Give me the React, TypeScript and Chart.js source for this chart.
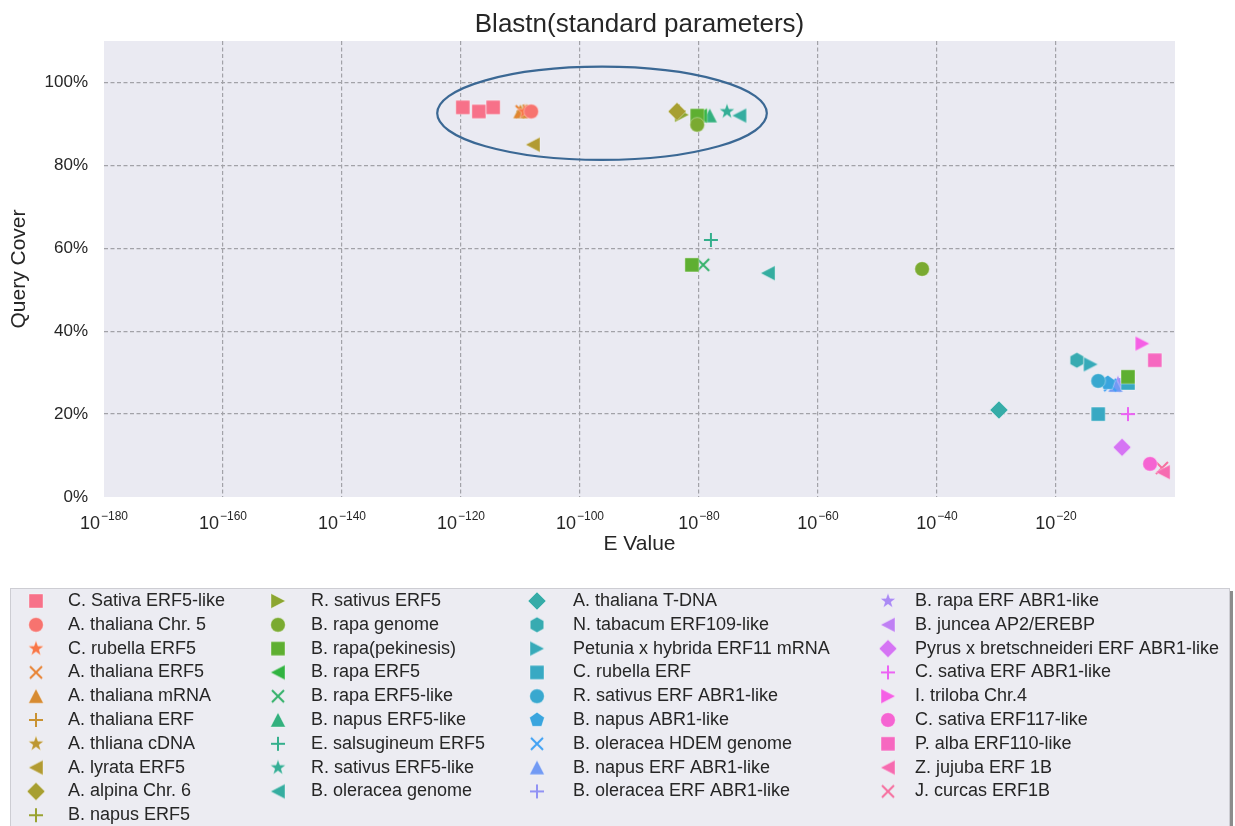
import React, { useEffect, useRef } from 'react';
import { Chart, registerables } from 'chart.js';

Chart.register(...registerables);

const FONT = "'Liberation Sans', Arial, Helvetica, sans-serif";
const TEXT = '#262626';
const GRID = '#a2a2a8';

const chartTitle = 'Blastn(standard parameters)';
const xAxisTitle = 'E Value';
const yAxisTitle = 'Query Cover';

const seriesNames = [
  'C. Sativa ERF5-like', 'A. thaliana Chr. 5', 'C. rubella ERF5', 'A. thaliana ERF5', 'A. thaliana mRNA',
  'A. thaliana ERF', 'A. thliana cDNA', 'A. lyrata ERF5', 'A. alpina Chr. 6', 'B. napus ERF5',
  'R. sativus ERF5', 'B. rapa genome', 'B. rapa(pekinesis)', 'B. rapa ERF5', 'B. rapa ERF5-like',
  'B. napus ERF5-like', 'E. salsugineum ERF5', 'R. sativus ERF5-like', 'B. oleracea genome',
  'A. thaliana T-DNA', 'N. tabacum ERF109-like', 'Petunia x hybrida ERF11 mRNA', 'C. rubella ERF',
  'R. sativus ERF ABR1-like', 'B. napus ABR1-like', 'B. oleracea HDEM genome', 'B. napus ERF ABR1-like',
  'B. oleracea ERF ABR1-like',
  'B. rapa ERF ABR1-like', 'B. juncea AP2/EREBP', 'Pyrus x bretschneideri ERF ABR1-like', 'C. sativa ERF ABR1-like',
  'I. triloba Chr.4', 'C. sativa ERF117-like', 'P. alba ERF110-like', 'Z. jujuba ERF 1B', 'J. curcas ERF1B',
];

const seriesMarkers = [
  'square', 'circle', 'star', 'x', 'triUp', 'plus', 'star', 'triLeft', 'diamond', 'plus',
  'triRight', 'circle', 'square', 'triLeft', 'x', 'triUp', 'plus', 'star', 'triLeft',
  'diamond', 'hexagon', 'triRight', 'square', 'circle', 'pentagon', 'x', 'triUp', 'plus',
  'star', 'triLeft', 'diamond', 'plus', 'triRight', 'circle', 'square', 'triLeft', 'x',
];

// log10(E value) of each hit, per series
const logEValues: number[][] = [
  [-119.7, -117.0, -114.6], [-108.2], [-109.3], [-109.8], [-110.0],
  [-109.5], [-109.0], [-107.9], [-83.7], [-83.4],
  [-82.9], [-80.3, -42.5], [-80.3, -81.2, -7.9], [-79.8], [-79.3],
  [-78.2], [-78.0], [-75.3], [-73.2, -68.4],
  [-29.6], [-16.5], [-14.2], [-12.9, -7.9], [-12.9], [-11.3], [-10.9], [-10.0], [-9.3],
  [-9.6], [-8.0], [-8.9], [-7.9], [-5.5], [-4.2], [-3.4], [-2.0], [-2.2],
];

// Query cover (%) of each hit, per series
const queryCover: number[][] = [
  [94, 93, 94], [93], [93], [93], [93],
  [93], [93], [85], [93], [93],
  [92.2], [89.8, 55], [92, 56, 29], [92], [56],
  [92], [62], [93], [92, 54],
  [21], [33], [32], [20, 27.5], [28], [27.5], [27], [27], [27],
  [27.5], [27.8], [12], [20], [37], [8], [33], [6], [7],
];

const xTickExponents = [-180, -160, -140, -120, -100, -80, -60, -40, -20];
const yTickValues = [0, 20, 40, 60, 80, 100];

// highlighted region (log10 E range, cover range)
const highlightLogE = [-124, -68.6];
const highlightCover = [81.3, 103.8];

// ---------- HUSL palette (seaborn default for many hues) ----------
const M = [
  [3.2406, -1.5372, -0.4986],
  [-0.9689, 1.8758, 0.0415],
  [0.0557, -0.204, 1.057],
];
function maxChroma(L: number, H: number) {
  const hrad = (H / 180) * Math.PI;
  const sinH = Math.sin(hrad);
  const cosH = Math.cos(hrad);
  const sub1 = Math.pow(L + 16, 3) / 1560896;
  const sub2 = sub1 > 0.008856 ? sub1 : L / 903.3;
  let result = Infinity;
  for (const [m1, m2, m3] of M) {
    const top = (0.99915 * m1 + 1.05122 * m2 + 1.1446 * m3) * sub2;
    const rbottom = 0.8633 * m3 - 0.17266 * m2;
    const lbottom = 0.12949 * m3 - 0.38848 * m1;
    const bottom = (rbottom * sinH + lbottom * cosH) * sub2;
    for (const t of [0, 1]) {
      const C = (L * (top - 1.05122 * t)) / (bottom + 0.17266 * sinH * t);
      if (C > 0 && C < result) result = C;
    }
  }
  return result;
}
function husl(H: number, S: number, L: number) {
  const C = (maxChroma(L, H) / 100) * S;
  const hrad = (H / 180) * Math.PI;
  const U = Math.cos(hrad) * C;
  const V = Math.sin(hrad) * C;
  const t = (L + 16) / 116;
  const Y = t * t * t > 0.008856 ? t * t * t : (116 * t - 16) / 903.3;
  const varU = U / (13 * L) + 0.19784;
  const varV = V / (13 * L) + 0.46834;
  const X = -(9 * Y * varU) / ((varU - 4) * varV - varU * varV);
  const Z = (9 * Y - 15 * varV * Y - varV * X) / (3 * varV);
  const rgb = M.map((r) => r[0] * X + r[1] * Y + r[2] * Z)
    .map((c) => (c <= 0.0031308 ? 12.92 * c : 1.055 * Math.pow(c, 1 / 2.4) - 0.055))
    .map((c) => Math.round(Math.min(1, Math.max(0, c)) * 255));
  return `rgb(${rgb[0]},${rgb[1]},${rgb[2]})`;
}
function huslPalette(n: number) {
  const out: string[] = [];
  for (let i = 0; i < n; i++) {
    const h = (((i / n) + 0.01) % 1) * 359;
    out.push(husl(h, 0.9 * 99, 0.65 * 99));
  }
  return out;
}

// ---------- marker images ----------
function polygon(g: CanvasRenderingContext2D, n: number, r: number, rot: number) {
  for (let k = 0; k < n; k++) {
    const a = rot + (k * 2 * Math.PI) / n;
    const px = r * Math.cos(a);
    const py = r * Math.sin(a);
    if (k === 0) g.moveTo(px, py);
    else g.lineTo(px, py);
  }
  g.closePath();
}
function makeMarker(shape: string, color: string) {
  const size = 26;
  const c = document.createElement('canvas');
  c.width = size;
  c.height = size;
  const g = c.getContext('2d') as CanvasRenderingContext2D;
  g.translate(size / 2, size / 2);
  g.fillStyle = color;
  g.strokeStyle = color;
  g.lineCap = 'butt';
  const fill = () => {
    g.fill();
    g.lineWidth = 0.7;
    g.strokeStyle = 'rgba(255,255,255,0.55)';
    g.stroke();
  };
  g.beginPath();
  switch (shape) {
    case 'square':
      g.rect(-7, -7, 14, 14);
      fill();
      break;
    case 'circle':
      g.arc(0, 0, 7.3, 0, Math.PI * 2);
      fill();
      break;
    case 'star': {
      for (let k = 0; k < 10; k++) {
        const r = k % 2 === 0 ? 8.2 : 3.3;
        const a = -Math.PI / 2 + (k * Math.PI) / 5;
        if (k === 0) g.moveTo(r * Math.cos(a), r * Math.sin(a));
        else g.lineTo(r * Math.cos(a), r * Math.sin(a));
      }
      g.closePath();
      fill();
      break;
    }
    case 'triUp':
      g.moveTo(0, -7.5); g.lineTo(7.5, 7); g.lineTo(-7.5, 7); g.closePath();
      fill();
      break;
    case 'triLeft':
      g.moveTo(-7.5, 0); g.lineTo(7, -7.5); g.lineTo(7, 7.5); g.closePath();
      fill();
      break;
    case 'triRight':
      g.moveTo(7.5, 0); g.lineTo(-7, -7.5); g.lineTo(-7, 7.5); g.closePath();
      fill();
      break;
    case 'diamond':
      g.moveTo(0, -9); g.lineTo(9, 0); g.lineTo(0, 9); g.lineTo(-9, 0); g.closePath();
      fill();
      break;
    case 'hexagon':
      polygon(g, 6, 7.8, -Math.PI / 2);
      fill();
      break;
    case 'pentagon':
      polygon(g, 5, 7.8, -Math.PI / 2);
      fill();
      break;
    case 'x':
      g.lineWidth = 2;
      g.moveTo(-6, -6); g.lineTo(6, 6);
      g.moveTo(-6, 6); g.lineTo(6, -6);
      g.stroke();
      break;
    case 'plus':
      g.lineWidth = 2;
      g.moveTo(-7, 0); g.lineTo(7, 0);
      g.moveTo(0, -7); g.lineTo(0, 7);
      g.stroke();
      break;
    default:
      break;
  }
  return c;
}

export default function App() {
  const ref = useRef<HTMLCanvasElement>(null);

  useEffect(() => {
    document.body.style.margin = '0';
    const canvas = ref.current;
    if (!canvas) return;
    const colors = huslPalette(seriesNames.length);
    const markers = seriesMarkers.map((m, i) => makeMarker(m, colors[i]));

    const datasets = seriesNames.map((name, i) => ({
      label: name,
      data: logEValues[i].map((e, k) => ({ x: Math.pow(10, e), y: queryCover[i][k] })),
      pointStyle: markers[i],
      pointRadius: 7,
      pointHoverRadius: 7,
      backgroundColor: colors[i],
      borderColor: colors[i],
      showLine: false,
    }));

    const backgroundPlugin = {
      id: 'bgPlot',
      beforeDraw(chart: any) {
        const { ctx, chartArea } = chart;
        ctx.save();
        ctx.fillStyle = '#ffffff';
        ctx.fillRect(0, 0, chart.width, chart.height);
        ctx.fillStyle = '#eaeaf2';
        ctx.fillRect(chartArea.left, chartArea.top, chartArea.right - chartArea.left, chartArea.bottom - chartArea.top);
        ctx.restore();
      },
    };

    const titlePlugin = {
      id: 'centeredTitle',
      afterDraw(chart: any) {
        const { ctx, chartArea } = chart;
        ctx.save();
        ctx.font = `26px ${FONT}`;
        ctx.fillStyle = TEXT;
        ctx.textAlign = 'center';
        ctx.textBaseline = 'alphabetic';
        ctx.fillText(chartTitle, (chartArea.left + chartArea.right) / 2, 32);
        ctx.restore();
      },
    };

    const xLabelPlugin = {
      id: 'xPowerLabels',
      afterDraw(chart: any) {
        const { ctx } = chart;
        const xs = chart.scales.x;
        ctx.save();
        ctx.fillStyle = TEXT;
        ctx.textBaseline = 'alphabetic';
        ctx.textAlign = 'left';
        xTickExponents.forEach((e) => {
          const px = xs.getPixelForValue(Math.pow(10, e));
          const base = '10';
          const sup = '\u2212' + Math.abs(e);
          ctx.font = `18px ${FONT}`;
          const w1 = ctx.measureText(base).width;
          ctx.font = `12px ${FONT}`;
          const w2 = ctx.measureText(sup).width;
          const x0 = px - (w1 + w2 + 1) / 2;
          ctx.font = `18px ${FONT}`;
          ctx.fillText(base, x0, 529);
          ctx.font = `12px ${FONT}`;
          ctx.fillText(sup, x0 + w1 + 1, 520);
        });
        ctx.restore();
      },
    };

    const ellipsePlugin = {
      id: 'highlight',
      afterDatasetsDraw(chart: any) {
        const { ctx } = chart;
        const xs = chart.scales.x;
        const ys = chart.scales.y;
        const x1 = xs.getPixelForValue(Math.pow(10, highlightLogE[0]));
        const x2 = xs.getPixelForValue(Math.pow(10, highlightLogE[1]));
        const y1 = ys.getPixelForValue(highlightCover[1]);
        const y2 = ys.getPixelForValue(highlightCover[0]);
        ctx.save();
        ctx.beginPath();
        ctx.ellipse((x1 + x2) / 2, (y1 + y2) / 2, (x2 - x1) / 2, (y2 - y1) / 2, 0, 0, Math.PI * 2);
        ctx.strokeStyle = '#3b6894';
        ctx.lineWidth = 2.2;
        ctx.stroke();
        ctx.restore();
      },
    };

    const legendPlugin = {
      id: 'columnLegend',
      afterDraw(chart: any) {
        const { ctx } = chart;
        ctx.save();
        ctx.fillStyle = '#8c8c8c';
        ctx.fillRect(13, 591, 1220, 260);
        ctx.fillStyle = '#ececf2';
        ctx.fillRect(10, 588, 1220, 260);
        ctx.strokeStyle = '#cdcdd3';
        ctx.lineWidth = 1;
        ctx.strokeRect(10.5, 588.5, 1219, 260);
        const markerX = [36, 278, 537, 888];
        const textX = [68, 311, 573, 915];
        ctx.font = `18px ${FONT}`;
        ctx.fillStyle = TEXT;
        ctx.textBaseline = 'middle';
        ctx.textAlign = 'left';
        seriesNames.forEach((name, i) => {
          let col = 0;
          let row = i;
          if (i >= 10) {
            col = 1 + Math.floor((i - 10) / 9);
            row = (i - 10) % 9;
          }
          const y = 601 + row * 23.8;
          const mk = markers[i];
          ctx.drawImage(mk, markerX[col] - mk.width / 2, y - mk.height / 2);
          ctx.fillText(name, textX[col], y);
        });
        ctx.restore();
      },
    };

    const gridColor = (c: any) => (c.index === 0 ? 'rgba(0,0,0,0)' : GRID);

    const chart = new Chart(canvas, {
      type: 'scatter',
      data: { datasets } as any,
      options: {
        responsive: false,
        animation: false,
        devicePixelRatio: 1,
        events: [],
        layout: { padding: { top: 41, left: 0, right: 60, bottom: 249 } },
        plugins: {
          legend: { display: false },
          tooltip: { enabled: false },
          title: { display: false },
        },
        scales: {
          x: {
            type: 'logarithmic',
            min: Math.pow(10, xTickExponents[0]),
            max: 1,
            afterBuildTicks: (s: any) => {
              s.ticks = xTickExponents.map((e) => ({ value: Math.pow(10, e) }));
            },
            afterFit: (s: any) => {
              s.height = 80;
            },
            ticks: { display: false },
            grid: { color: gridColor, lineWidth: 1.2, drawTicks: false },
            border: { display: false, dash: [4, 2.5] },
            title: {
              display: true,
              text: xAxisTitle,
              color: TEXT,
              font: { family: FONT, size: 21 },
              padding: { top: 0, bottom: 20 },
            },
          },
          y: {
            type: 'linear',
            min: 0,
            max: 110,
            afterBuildTicks: (s: any) => {
              s.ticks = yTickValues.map((v) => ({ value: v }));
            },
            afterFit: (s: any) => {
              s.width = 104;
            },
            ticks: {
              callback: (v: any) => v + '%',
              color: TEXT,
              font: { family: FONT, size: 17 },
              padding: 16,
            },
            grid: { color: gridColor, lineWidth: 1.2, drawTicks: false },
            border: { display: false, dash: [4, 2.5] },
            title: {
              display: true,
              text: yAxisTitle,
              color: TEXT,
              font: { family: FONT, size: 21 },
              padding: { top: 7, bottom: 0 },
            },
          },
        },
      } as any,
      plugins: [backgroundPlugin, titlePlugin, xLabelPlugin, ellipsePlugin, legendPlugin],
    });

    return () => chart.destroy();
  }, []);

  return (
    <div style={{ width: 1235, height: 826 }}>
      <canvas ref={ref} width={1235} height={826} style={{ display: 'block', width: 1235, height: 826 }} />
    </div>
  );
}
